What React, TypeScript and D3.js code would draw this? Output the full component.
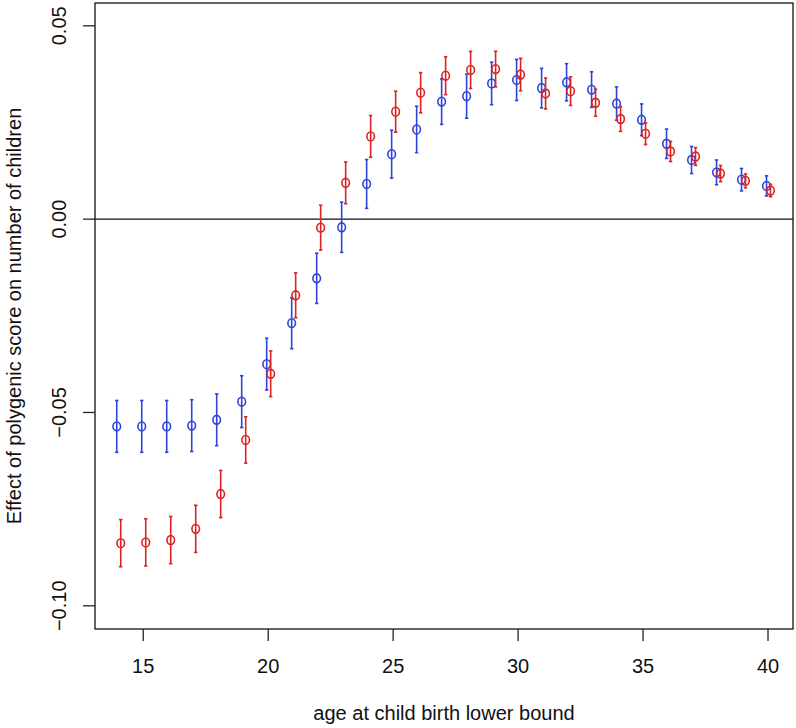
import React from "react";
import * as d3 from "d3";

const ages = [14,15,16,17,18,19,20,21,22,23,24,25,26,27,28,29,30,31,32,33,34,35,36,37,38,39,40];
const blueEst = [-0.0536,-0.0536,-0.0536,-0.0534,-0.0519,-0.0472,-0.0375,-0.0269,-0.0153,-0.0021,0.0091,0.0168,0.0232,0.0304,0.0318,0.0351,0.0360,0.0339,0.0354,0.0335,0.0299,0.0257,0.0195,0.0153,0.0121,0.0102,0.0086];
const blueSE = [0.0067,0.0067,0.0067,0.0067,0.0067,0.0067,0.0067,0.0066,0.0065,0.0065,0.0063,0.0062,0.0060,0.0059,0.0057,0.0055,0.0053,0.0051,0.0048,0.0046,0.0043,0.0041,0.0038,0.0035,0.0032,0.0029,0.0026];
const redEst = [-0.0838,-0.0836,-0.0830,-0.0801,-0.0711,-0.0571,-0.0400,-0.0197,-0.0022,0.0094,0.0214,0.0278,0.0327,0.0371,0.0386,0.0388,0.0374,0.0325,0.0331,0.0301,0.0259,0.0221,0.0175,0.0162,0.0118,0.0099,0.0074];
const redSE = [0.0061,0.0061,0.0061,0.0061,0.0061,0.0060,0.0059,0.0058,0.0058,0.0054,0.0054,0.0053,0.0052,0.0049,0.0048,0.0046,0.0042,0.0040,0.0037,0.0035,0.0032,0.0028,0.0026,0.0023,0.0021,0.0018,0.0016];
const xTicks = [15, 20, 25, 30, 35, 40];
const yTicks = [-0.10, -0.05, 0.00, 0.05];
const yTickLabels = ["\u22120.10", "\u22120.05", "0.00", "0.05"];
const xTitle = "age at child birth lower bound";
const yTitle = "Effect of polygenic score on number of children";

const W = 796, H = 728;
const L = 95, R = 793, T = 3, B = 629;
const FONT = "'Liberation Sans', Arial, Helvetica, sans-serif";

const series = [
  { est: blueEst, se: blueSE, color: "#2e44d8", offset: -0.06 },
  { est: redEst, se: redSE, color: "#dc2222", offset: 0.1 },
];

export default function App() {
  const x = d3.scaleLinear().domain([13.07, 41]).range([L, R]);
  const y = d3.scaleLinear().domain([-0.106, 0.0559]).range([B, T]);
  const cap = 1.7;
  return (
    <div style={{ position: "absolute", left: 0, top: 0 }}>
      <svg width={W} height={H} style={{ display: "block", background: "#fff" }} fontFamily={FONT}>
        <rect x={0} y={0} width={W} height={H} fill="#fff" />
        {/* zero line */}
        <line x1={L} x2={R} y1={y(0)} y2={y(0)} stroke="#111" strokeWidth={1.4} />
        {series.map((s, si) => (
          <g key={si} stroke={s.color} fill="none">
            {ages.map((a, i) => {
              const cx = x(a + s.offset);
              const y1 = y(s.est[i] - s.se[i]);
              const y2 = y(s.est[i] + s.se[i]);
              return (
                <g key={i}>
                  <line x1={cx} x2={cx} y1={y1} y2={y2} strokeWidth={1.6} />
                  <line x1={cx - cap} x2={cx + cap} y1={y1} y2={y1} strokeWidth={1.6} />
                  <line x1={cx - cap} x2={cx + cap} y1={y2} y2={y2} strokeWidth={1.6} />
                  <ellipse cx={cx} cy={y(s.est[i])} rx={3.8} ry={4.4} strokeWidth={1.6} fill="none" />
                </g>
              );
            })}
          </g>
        ))}
        {/* box */}
        <rect x={L} y={T} width={R - L} height={B - T} fill="none" stroke="#222" strokeWidth={1.4} />
        {/* x axis */}
        {xTicks.map((t) => (
          <g key={t}>
            <line x1={x(t)} x2={x(t)} y1={B} y2={B + 12} stroke="#222" strokeWidth={1.3} />
            <text x={x(t)} y={673} textAnchor="middle" fontSize={20} fill="#111">{t}</text>
          </g>
        ))}
        <text x={(L + R) / 2} y={720} textAnchor="middle" fontSize={20} fill="#111">{xTitle}</text>
        {/* y axis */}
        {yTicks.map((t, i) => (
          <g key={t}>
            <line x1={L - 12} x2={L} y1={y(t)} y2={y(t)} stroke="#222" strokeWidth={1.3} />
            <text transform={`translate(66,${y(t)}) rotate(-90)`} textAnchor="middle" fontSize={20} fill="#111">{yTickLabels[i]}</text>
          </g>
        ))}
        <text transform={`translate(21,${(T + B) / 2}) rotate(-90)`} textAnchor="middle" fontSize={20} fill="#111">{yTitle}</text>
      </svg>
    </div>
  );
}
